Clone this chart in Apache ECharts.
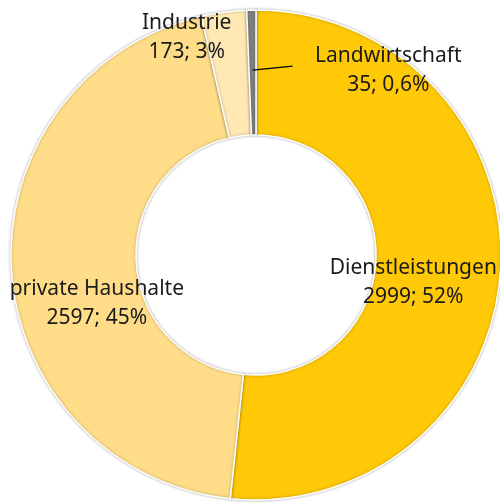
<!DOCTYPE html>
<html><head><meta charset="utf-8">
<script src="https://cdn.jsdelivr.net/npm/echarts@6/dist/echarts.min.js"></script>
<style>html,body{margin:0;padding:0;background:#fff}#c{width:500px;height:503px}</style>
</head><body><div id="c"></div>
<script>
var categories = ['Dienstleistungen', 'private Haushalte', 'Industrie', 'Landwirtschaft'];
var values = [2999, 2597, 173, 35];
var colors = ['#FFC907', '#FFDC88', '#FFE8B3', '#808080'];
var labelShifts = [[-28, 18], [26, 37], [-45, -34], [137, 61]];

function fmtPct(p) {
  if (p < 1) return p.toFixed(1).replace('.', ',') + '%';
  return Math.round(p) + '%';
}
function buildOption(graphic) {
  return {
    animation: false,
    graphic: graphic,
    series: [{
      type: 'pie',
      center: [256, 255],
      radius: [120, 245],
      startAngle: 90,
      clockwise: true,
      avoidLabelOverlap: false,
      percentPrecision: 2,
      itemStyle: {borderColor: '#fff', borderWidth: 1.5, shadowBlur: 3, shadowColor: 'rgba(0,0,0,0.3)'},
      label: {
        show: true,
        position: 'inside',
        fontFamily: 'Noto Sans',
        fontSize: 21,
        lineHeight: 29,
        color: '#1a1a1a',
        align: 'center',
        formatter: function (p) { return p.name + '\n' + p.value + '; ' + fmtPct(p.percent); }
      },
      labelLine: {show: false},
      labelLayout: function (params) {
        var i = params.dataIndex;
        var s = labelShifts[i];
        if (i === 3) {
          var r = params.rect;
          return {
            x: r.x + r.width / 2 + s[0], y: r.y + s[1],
            align: 'center', verticalAlign: 'middle'
          };
        }
        return {dx: s[0], dy: s[1]};
      },
      data: categories.map(function (c, i) {
        return {name: c, value: values[i], itemStyle: {color: colors[i]}};
      })
    }]
  };
}

var el = document.getElementById('c');
var chart = echarts.init(el, null, {renderer: 'canvas'});
chart.setOption(buildOption([]));
// leader line for the small Landwirtschaft slice, derived from the library's sector layout
var lay = chart.getModel().getSeriesByIndex(0).getData().getItemLayout(3);
var mid = (lay.startAngle + lay.endAngle) / 2;
var rad = lay.r0 + (lay.r - lay.r0) * 0.52;
var x0 = lay.cx + rad * Math.cos(mid);
var y0 = lay.cy + rad * Math.sin(mid);
chart.dispose();
chart = echarts.init(el, null, {renderer: 'canvas'});
chart.setOption(buildOption([{
  type: 'polyline',
  z: 100,
  shape: {points: [[x0, y0], [x0 + 40, y0 - 4]]},
  style: {stroke: '#000', lineWidth: 1.3, fill: null}
}]));
</script></body></html>
